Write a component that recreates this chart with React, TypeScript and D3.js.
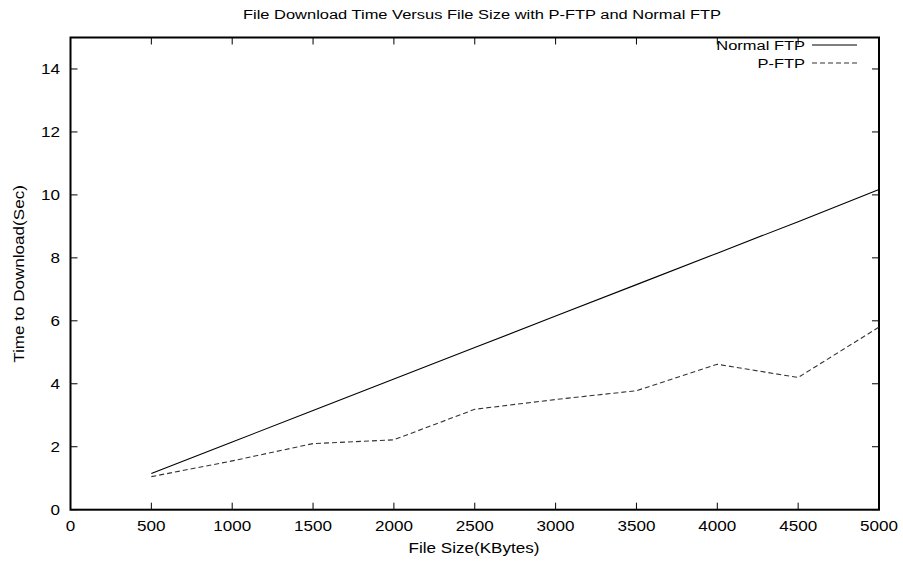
import React from 'react';
import * as d3 from 'd3';

const FILE_SIZES = [500, 1000, 1500, 2000, 2500, 3000, 3500, 4000, 4500, 5000];
const NORMAL_FTP = [1.15, 2.15, 3.15, 4.15, 5.15, 6.15, 7.15, 8.15, 9.15, 10.17];
const P_FTP = [1.05, 1.55, 2.1, 2.22, 3.19, 3.5, 3.78, 4.62, 4.2, 5.8];
const X_TICKS = [0, 500, 1000, 1500, 2000, 2500, 3000, 3500, 4000, 4500, 5000];
const Y_TICKS = [0, 2, 4, 6, 8, 10, 12, 14];

const W = 903;
const H = 565;
const FONT = '"Liberation Sans", Arial, Helvetica, sans-serif';
const SX = 1.22; // the original's lettering is a bit wider than Liberation Sans

// text stretched horizontally around its anchor point
function Label({ x, y, anchor = 'middle', size = 14, rotate = 0, children }:
  { x: number; y: number; anchor?: string; size?: number; rotate?: number; children: React.ReactNode }) {
  return (
    <text transform={`translate(${x},${y}) rotate(${rotate}) scale(${SX},1)`}
      textAnchor={anchor} fontSize={size} fill="#000">
      {children}
    </text>
  );
}

export default function App() {
  const left = 70.5, right = 879, top = 37.5, bottom = 509.7;
  const x = d3.scaleLinear().domain([0, 5000]).range([left, right]);
  const y = d3.scaleLinear().domain([0, 15]).range([bottom, top]);
  const line = d3.line<number>()
    .x((_, i) => x(FILE_SIZES[i]))
    .y(d => y(d));
  const tick = 7;

  return (
    <svg width={W} height={H} style={{ position: 'absolute', left: 0, top: 0 }}
      fontFamily={FONT}>
      <rect x={0} y={0} width={W} height={H} fill="#fff" />

      {/* title */}
      <Label x={482} y={19} size={13.5}>
        File Download Time Versus File Size with P-FTP and Normal FTP
      </Label>

      {/* ticks, mirrored like gnuplot */}
      {X_TICKS.map(t => (
        <g key={'x' + t}>
          <line x1={x(t)} x2={x(t)} y1={bottom} y2={bottom - tick} stroke="#000" />
          <line x1={x(t)} x2={x(t)} y1={top} y2={top + tick} stroke="#000" />
          <Label x={x(t)} y={531}>{t}</Label>
        </g>
      ))}
      {Y_TICKS.map(t => (
        <g key={'y' + t}>
          <line x1={left} x2={left + tick} y1={y(t)} y2={y(t)} stroke="#000" />
          <line x1={right} x2={right - tick} y1={y(t)} y2={y(t)} stroke="#000" />
          <Label x={60} y={y(t) + 5} anchor="end">{t}</Label>
        </g>
      ))}

      {/* border */}
      <rect x={left} y={top} width={right - left} height={bottom - top}
        fill="none" stroke="#000" strokeWidth={2} />

      {/* axis labels */}
      <Label x={474} y={553}>File Size(KBytes)</Label>
      <Label x={23.5} y={274} rotate={-90}>Time to Download(Sec)</Label>

      {/* series */}
      <path d={line(NORMAL_FTP) ?? ''} fill="none" stroke="#000" strokeWidth={1.1} />
      <path d={line(P_FTP) ?? ''} fill="none" stroke="#333" strokeWidth={1.1}
        strokeDasharray="5,3" />

      {/* legend */}
      <Label x={805} y={50} anchor="end" size={13.5}>Normal FTP</Label>
      <line x1={812} x2={857} y1={45} y2={45} stroke="#000" strokeWidth={1.1} />
      <Label x={805} y={68} anchor="end" size={13.5}>P-FTP</Label>
      <line x1={812} x2={857} y1={63} y2={63} stroke="#333" strokeWidth={1.1}
        strokeDasharray="5,3" />
    </svg>
  );
}
